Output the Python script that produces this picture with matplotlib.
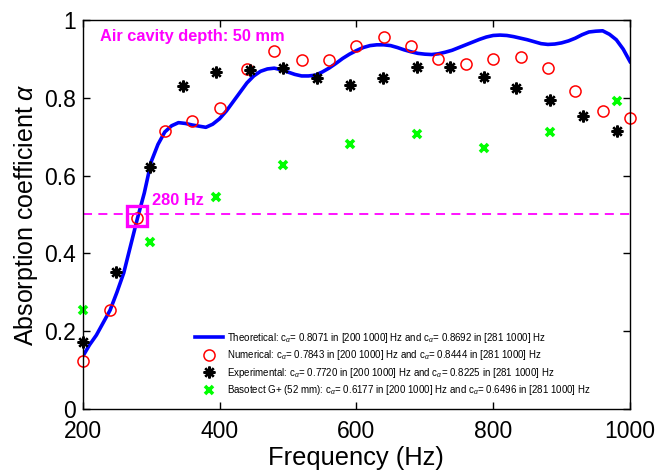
import numpy as np
import matplotlib
matplotlib.use('Agg')
import matplotlib.pyplot as plt

plt.rcParams['font.family'] = ['Liberation Sans', 'DejaVu Sans']
plt.rcParams['mathtext.fontset'] = 'custom'
plt.rcParams['mathtext.rm'] = 'Liberation Sans'
plt.rcParams['mathtext.it'] = 'Liberation Sans:italic'

# 理论曲线 (10 Hz 间隔)
f_theo = np.arange(200, 1001, 10)
a_theo = [0.135, 0.165, 0.190, 0.222, 0.254, 0.300, 0.350, 0.420, 0.490, 0.555,
          0.635, 0.680, 0.712, 0.728, 0.736, 0.734, 0.730, 0.727, 0.724, 0.732,
          0.746, 0.766, 0.790, 0.814, 0.838, 0.856, 0.868, 0.874, 0.876, 0.872,
          0.866, 0.860, 0.856, 0.856, 0.858, 0.866, 0.876, 0.888, 0.901, 0.912,
          0.921, 0.929, 0.934, 0.936, 0.936, 0.934, 0.929, 0.923, 0.918, 0.914,
          0.912, 0.911, 0.913, 0.917, 0.922, 0.929, 0.936, 0.943, 0.950, 0.956,
          0.960, 0.961, 0.960, 0.957, 0.953, 0.949, 0.944, 0.939, 0.937, 0.938,
          0.941, 0.946, 0.953, 0.962, 0.969, 0.971, 0.972, 0.963, 0.949, 0.925,
          0.893]

# 数值结果
f_num = np.arange(200, 1001, 40)
a_num = [0.123, 0.254, 0.492, 0.715, 0.741, 0.773, 0.873, 0.919, 0.897, 0.897,
         0.934, 0.956, 0.934, 0.900, 0.887, 0.899, 0.905, 0.876, 0.817, 0.766,
         0.747]

# 实验结果
f_exp = [200, 249, 298, 346, 395, 444, 493, 542, 590, 639, 688, 737, 786, 834,
         883, 932, 981]
a_exp = [0.173, 0.353, 0.623, 0.829, 0.867, 0.871, 0.876, 0.852, 0.833, 0.850,
         0.880, 0.880, 0.854, 0.824, 0.794, 0.754, 0.715]

# Basotect G+
f_bas = [200, 298, 395, 493, 590, 688, 786, 883, 981]
a_bas = [0.254, 0.429, 0.546, 0.627, 0.680, 0.707, 0.670, 0.713, 0.792]

f_mark, a_mark = 280, 0.495
a_ref = 0.5

labels = [
    r'Theoretical: c$_{\alpha}$= 0.8071 in [200 1000] Hz and c$_{\alpha}$= 0.8692 in [281 1000] Hz',
    r'Numerical: c$_{\alpha}$= 0.7843 in [200 1000] Hz and c$_{\alpha}$= 0.8444 in [281 1000] Hz',
    r'Experimental: c$_{\alpha}$= 0.7720 in [200 1000] Hz and c$_{\alpha}$= 0.8225 in [281 1000] Hz',
    r'Basotect G+ (52 mm): c$_{\alpha}$= 0.6177 in [200 1000] Hz and c$_{\alpha}$= 0.6496 in [281 1000] Hz',
]

fig = plt.figure(figsize=(6.59, 4.74), dpi=100)
ax = fig.add_axes([0.1255, 0.137, 0.8305, 0.821])

ax.plot(f_theo, a_theo, '-', color='#0000ff', linewidth=2.6, label=labels[0])
ax.plot(f_num, a_num, 'o', color='#ff0000', markerfacecolor='none',
        markersize=8, markeredgewidth=1.1, label=labels[1], clip_on=False)
ax.plot(f_exp, a_exp, linestyle='none', marker=(8, 2, 0), color='black',
        markersize=8.5, markeredgewidth=1.7, label=labels[2], clip_on=False)
ax.plot(f_bas, a_bas, 'x', color='#00ff00', markersize=6,
        markeredgewidth=2.6, label=labels[3], clip_on=False)

ax.axhline(a_ref, color='#ff00ff', linestyle=(0, (5, 3.5)), linewidth=1.3)
ax.plot([f_mark], [a_mark], 's', markersize=14, markerfacecolor='none',
        markeredgecolor='#ff00ff', markeredgewidth=2.4)

ax.text(225, 0.947, 'Air cavity depth: 50 mm', color='#ff00ff',
        fontsize=11.8, fontweight='bold', ha='left', va='baseline')
ax.text(302, 0.524, '280 Hz', color='#ff00ff',
        fontsize=11.8, fontweight='bold', ha='left', va='baseline')

ax.set_xlim(200, 1000)
ax.set_ylim(0, 1)
ax.set_xticks([200, 400, 600, 800, 1000])
ax.set_yticks([0, 0.2, 0.4, 0.6, 0.8, 1.0])
ax.set_yticklabels(['0', '0.2', '0.4', '0.6', '0.8', '1'])
ax.tick_params(direction='in', top=True, right=True, length=5, width=1,
               labelsize=16.5)
ax.tick_params(axis='x', pad=8)
ax.tick_params(axis='y', pad=5)
for sp in ax.spines.values():
    sp.set_linewidth(1.0)

ax.set_xlabel('Frequency (Hz)', fontsize=18.4, labelpad=2)
ax.set_ylabel(r'Absorption coefficient $\alpha$', fontsize=18, labelpad=3)

ax.legend(loc='lower left', bbox_to_anchor=(0.205, 0.03), frameon=False,
          fontsize=7.0, handlelength=2.9, handletextpad=0.4,
          labelspacing=0.36, borderpad=0, borderaxespad=0)

fig.savefig('out.png', dpi=100)
